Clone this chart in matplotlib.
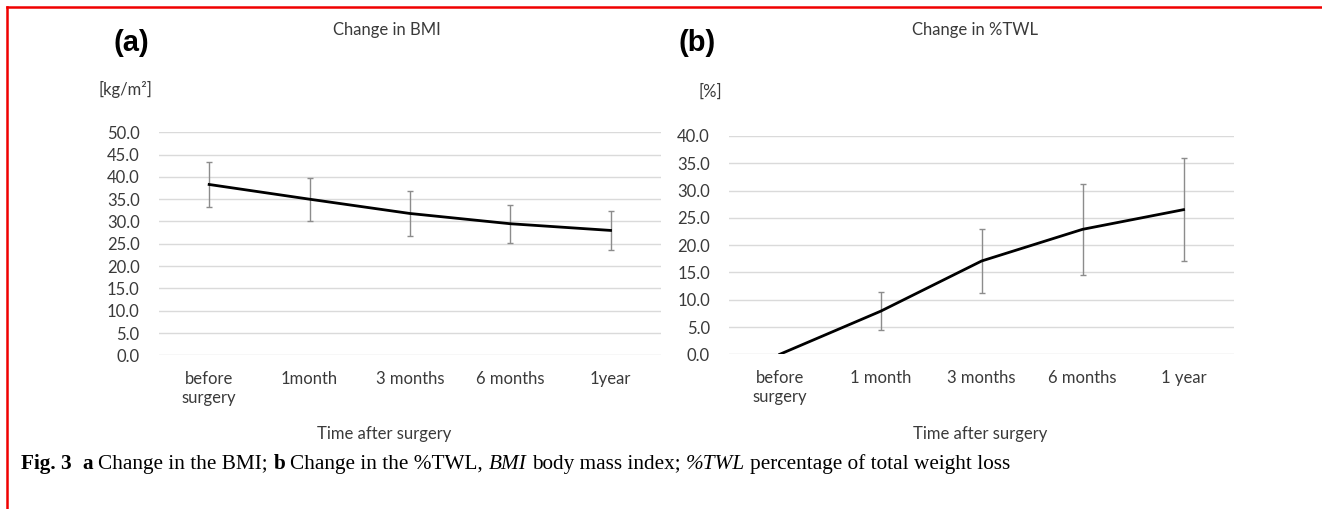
import matplotlib
matplotlib.use('agg')
import matplotlib.pyplot as plt
from matplotlib.lines import Line2D
import numpy as np

# data
labels_a = ["before\nsurgery", "1month", "3 months", "6 months", "1year"]
bmi_mean = [38.3, 35.0, 31.8, 29.5, 28.0]
bmi_sd = [5.0, 4.8, 5.1, 4.3, 4.3]

labels_b = ["before\nsurgery", "1 month", "3 months", "6 months", "1 year"]
twl_mean = [0.0, 7.9, 17.1, 22.9, 26.5]
twl_sd = [0.0, 3.5, 5.9, 8.3, 9.4]

W, H = 1322, 509
fig = plt.figure(figsize=(W / 100, H / 100), dpi=100)
plt.rcParams['font.family'] = ['Lato', 'DejaVu Sans']

txt_col = '#3a3a3a'
fs = 12


def px(x, y):
    return x / W, 1 - y / H


def panel(rect, labels, mean, sd, ymax, letter, title, unit, letter_xy, title_xy, unit_xy, xlab_xy):
    ax = fig.add_axes(rect)
    x = np.arange(len(mean))
    ax.plot(x, mean, color='black', lw=2.0, zorder=3)
    err = [i for i in range(len(sd)) if sd[i] > 0]
    ax.errorbar(x[err], np.array(mean)[err], yerr=np.array(sd)[err], fmt='none',
                ecolor='#8c8c8c', elinewidth=1.0, capsize=2.5, capthick=1.0, zorder=2)
    ax.set_xlim(-0.5, len(mean) - 0.5)
    ax.set_ylim(0, ymax)
    ax.set_yticks(np.arange(0, ymax + 0.1, 5))
    ax.set_yticklabels([f"{v:.1f}" for v in np.arange(0, ymax + 0.1, 5)])
    ax.set_xticks(x)
    ax.set_xticklabels(labels, linespacing=1.3)
    ax.yaxis.grid(True, color='#dadada', lw=1.0)
    ax.set_axisbelow(True)
    for s in ax.spines.values():
        s.set_visible(False)
    ax.tick_params(axis='both', length=0, labelsize=fs, labelcolor=txt_col)
    ax.tick_params(axis='y', pad=14)
    ax.tick_params(axis='x', pad=11)
    fig.text(*px(*letter_xy), letter, family='Liberation Sans', weight='bold',
             fontsize=21, ha='center', va='center', color='black')
    fig.text(*px(*title_xy), title, fontsize=fs, ha='center', va='center', color=txt_col)
    fig.text(*px(*unit_xy), unit, fontsize=fs, ha='center', va='center', color=txt_col)
    fig.text(*px(*xlab_xy), "Time after surgery", fontsize=fs, ha='center', va='center', color=txt_col)
    return ax


panel([159 / W, 1 - 355.3 / H, (660.7 - 159) / W, (355.3 - 132.3) / H],
      labels_a, bmi_mean, bmi_sd, 50, "(a)", "Change in BMI", "[kg/m²]",
      (131, 43), (387, 30), (125, 89), (384, 434))
panel([729.3 / W, 1 - 354.3 / H, (1234 - 729.3) / W, (354.3 - 136) / H],
      labels_b, twl_mean, twl_sd, 40, "(b)", "Change in %TWL", "[%]",
      (697, 43), (975, 30), (710, 92), (980, 434))

# red frame lines (top and left)
fig.add_artist(Line2D([7 / W, 1], [1 - 7 / H, 1 - 7 / H], color='#f00000', lw=1.8))
fig.add_artist(Line2D([7 / W, 7 / W], [0, 1 - 7 / H], color='#f00000', lw=1.8))

# caption with mixed styles
pieces = [("Fig. 3", 'bold', 'normal', 2), ("a", 'bold', 'normal', 1),
          ("Change in the BMI;", 'normal', 'normal', 1), ("b", 'bold', 'normal', 1),
          ("Change in the %TWL,", 'normal', 'normal', 1), ("BMI", 'normal', 'italic', 1),
          ("body mass index;", 'normal', 'normal', 1), ("%TWL", 'normal', 'italic', 1),
          ("percentage of total weight loss", 'normal', 'normal', 0)]
renderer = fig.canvas.get_renderer()
cap_fs = 15.3
t1 = fig.text(0, 0, "xx", family='Liberation Serif', fontsize=cap_fs)
t2 = fig.text(0, 0, "x x", family='Liberation Serif', fontsize=cap_fs)
space = t2.get_window_extent(renderer).width - t1.get_window_extent(renderer).width
t1.remove()
t2.remove()
xpos = 21
for s, w, st, nsp in pieces:
    t = fig.text(xpos / W, 1 - 469 / H, s, family='Liberation Serif', fontsize=cap_fs,
                 weight=w, style=st, ha='left', va='baseline', color='black')
    xpos += t.get_window_extent(renderer).width + nsp * space

fig.savefig("out.png", dpi=100)
